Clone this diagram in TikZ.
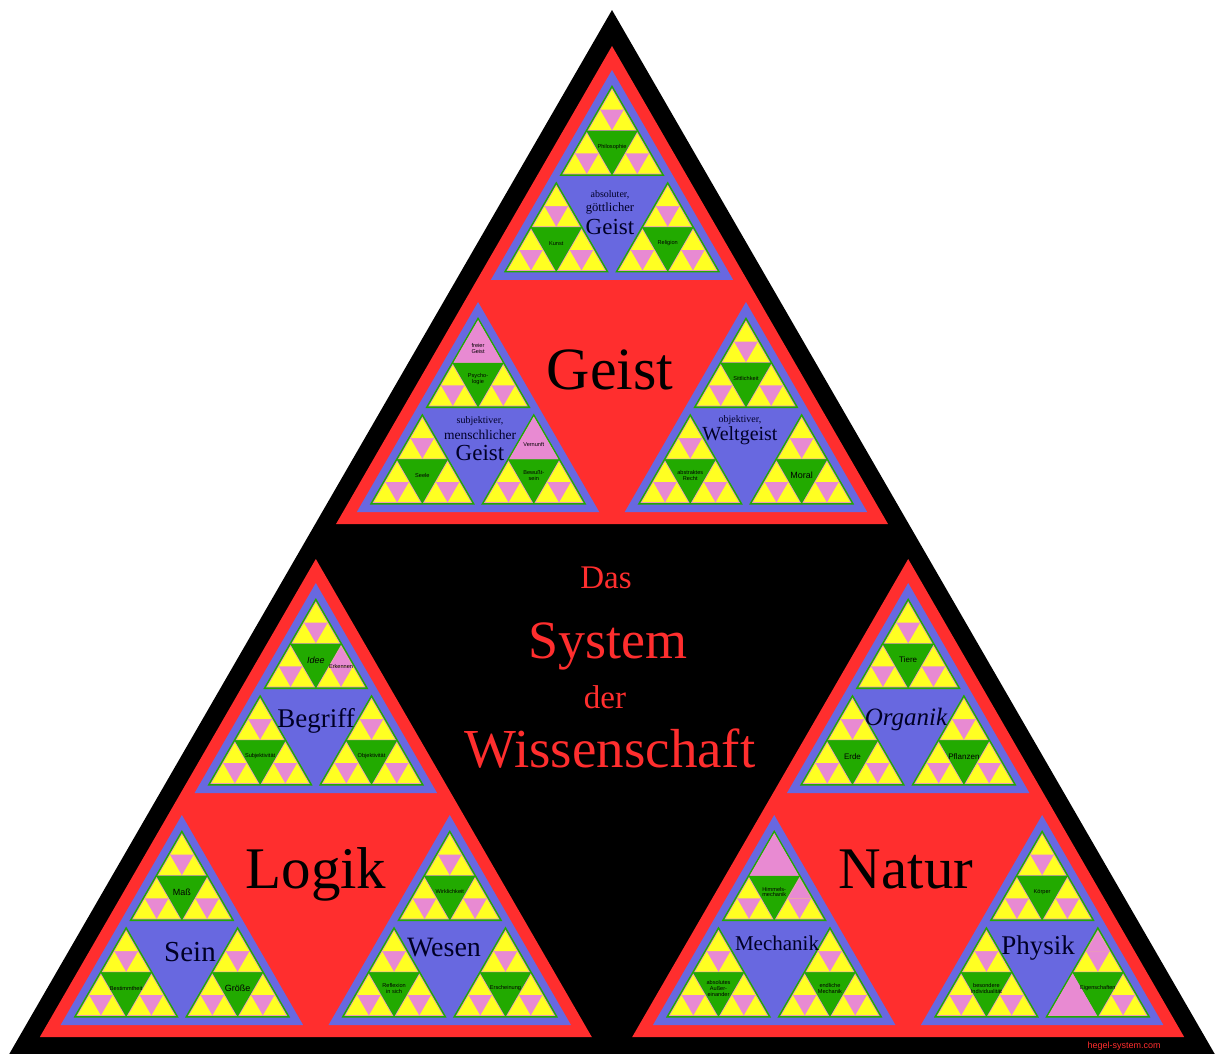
\documentclass[tikz,border=0pt]{standalone}
\usepackage{fontspec}
\setmainfont{Liberation Serif}
\setsansfont{Liberation Sans}
\definecolor{cred}{HTML}{FF2E2E}
\definecolor{cblue}{HTML}{6868E0}
\definecolor{cgreen}{HTML}{22AA00}
\definecolor{cyellow}{HTML}{FFFF22}
\definecolor{cpink}{HTML}{E88AD2}
\newcommand\tri[5]{%
  \pgfmathsetmacro\hw{#4/sqrt(3)}%
  \coordinate (#5-a) at (#2,#3);
  \coordinate (#5-bl) at ({#2-\hw},{#3+#4});
  \coordinate (#5-br) at ({#2+\hw},{#3+#4});
  \coordinate (#5-c) at (#2,{#3+0.68*#4});
  \fill[#1] (#5-a) -- (#5-bl) -- (#5-br) -- cycle;
}
\newcommand\kids[5]{%
  \pgfmathsetmacro\kTy{#2+2*#4}%
  \pgfmathsetmacro\kBy{#2+#3-#4-#5}%
  \pgfmathsetmacro\kLx{#1-#3/sqrt(3)+sqrt(3)*#4+#5/sqrt(3)}%
  \pgfmathsetmacro\kRx{#1+#3/sqrt(3)-sqrt(3)*#4-#5/sqrt(3)}%
}
\newcommand\lvfive[4]{\tri{cyellow}{#1}{#2}{#3}{#4}}
\newcommand\lvfour[4]{\begingroup
  \pgfmathsetmacro\Px{#1}\pgfmathsetmacro\Py{#2}\pgfmathsetmacro\Ph{#3}%
  \tri{cpink}{\Px}{\Py}{\Ph}{#4}%
  \pgfmathsetmacro\Pc{\Ph*0.47}%
  \kids{\Px}{\Py}{\Ph}{0.7}{\Pc}%
  \edef\next{\noexpand\lvfive{\Px}{\kTy}{\Pc}{#4-t}\noexpand\lvfive{\kLx}{\kBy}{\Pc}{#4-l}\noexpand\lvfive{\kRx}{\kBy}{\Pc}{#4-r}}\next
  \endgroup}
\newcommand\lvthree[4]{\begingroup
  \pgfmathsetmacro\Px{#1}\pgfmathsetmacro\Py{#2}\pgfmathsetmacro\Ph{#3}%
  \tri{cgreen}{\Px}{\Py}{\Ph}{#4}%
  \pgfmathsetmacro\Pc{\Ph*0.467}%
  \kids{\Px}{\Py}{\Ph}{1.6}{\Pc}%
  \edef\next{\noexpand\lvfour{\Px}{\kTy}{\Pc}{#4-t}\noexpand\lvfour{\kLx}{\kBy}{\Pc}{#4-l}\noexpand\lvfour{\kRx}{\kBy}{\Pc}{#4-r}}\next
  \endgroup}
\newcommand\lvtwo[4]{\begingroup
  \pgfmathsetmacro\Px{#1}\pgfmathsetmacro\Py{#2}\pgfmathsetmacro\Ph{#3}%
  \tri{cblue}{\Px}{\Py}{\Ph}{#4}%
  \pgfmathsetmacro\Pc{\Ph*0.4333}%
  \kids{\Px}{\Py}{\Ph}{7.5}{\Pc}%
  \edef\next{\noexpand\lvthree{\Px}{\kTy}{\Pc}{#4-t}\noexpand\lvthree{\kLx}{\kBy}{\Pc}{#4-l}\noexpand\lvthree{\kRx}{\kBy}{\Pc}{#4-r}}\next
  \endgroup}
\newcommand\lvone[4]{\begingroup
  \pgfmathsetmacro\Px{#1}\pgfmathsetmacro\Py{#2}\pgfmathsetmacro\Ph{#3}%
  \tri{cred}{\Px}{\Py}{\Ph}{#4}%
  \pgfmathsetmacro\Pc{\Ph*0.4393}%
  \kids{\Px}{\Py}{\Ph}{12}{\Pc}%
  \edef\next{\noexpand\lvtwo{\Px}{\kTy}{\Pc}{#4-t}\noexpand\lvtwo{\kLx}{\kBy}{\Pc}{#4-l}\noexpand\lvtwo{\kRx}{\kBy}{\Pc}{#4-r}}\next
  \endgroup}
\newcommand\fsz[1]{\fontsize{#1}{#1}\selectfont}
\begin{document}
\begin{tikzpicture}[x=1pt,y=-1pt,
  ctext/.style={text=cred,inner sep=0pt},
  bigl/.style={text=black,inner sep=0pt},
  midl/.style={text=black!85!blue,inner sep=0pt,align=center},
  tinyl/.style={text=black,inner sep=0pt,align=center,font=\sffamily\fsz{5.6}},
  pinkfull/.style={fill=cpink}]
\useasboundingbox (0,0) rectangle (1217,1053);
\fill[white] (0,0) rectangle (1217,1053);
\tri{black}{612}{10}{1045}{W}
\kids{612}{10}{1045}{18}{478}
\edef\next{\noexpand\lvone{612}{\kTy}{478}{G}\noexpand\lvone{\kLx}{\kBy}{478}{L}\noexpand\lvone{\kRx}{\kBy}{478}{N}}\next
% irregular pink parts
\fill[pinkfull] (G-l-t-t-a) -- (G-l-t-t-bl) -- (G-l-t-t-br) -- cycle;
\fill[pinkfull] (G-l-r-t-a) -- (G-l-r-t-bl) -- (G-l-r-t-br) -- cycle;
\fill[pinkfull] (L-t-t-r-t-a) -- (L-t-t-r-t-bl) -- (L-t-t-r-t-br) -- cycle;
\fill[pinkfull] (N-l-t-t-a) -- (N-l-t-t-bl) -- (N-l-t-t-br) -- cycle;
\fill[pinkfull] (N-l-t-r-t-a) -- (N-l-t-r-t-bl) -- (N-l-t-r-t-br) -- cycle;
\fill[pinkfull] (N-r-r-t-t-a) -- (N-r-r-t-t-bl) -- (N-r-r-t-t-br) -- cycle;
\fill[pinkfull] (N-r-r-l-a) -- (N-r-r-l-bl) -- (N-r-r-l-br) -- cycle;
\node[tinyl] (fg) at ([yshift=-28]G-l-t-t-a) {freier\\Geist};
\node[tinyl] (vn) at ([yshift=-28]G-l-r-t-a) {Vernunft};
\node[tinyl] (ek) at ([yshift=-22]L-t-t-r-a) {Erkennen};
% centre title
\node[ctext,anchor=base,font=\fsz{33}] (das) at (606,588) {Das};
\node[ctext,anchor=base,font=\fsz{54}] (sys) at (608,658) {System};
\node[ctext,anchor=base,font=\fsz{33}] (der) at (605,708) {der};
\node[ctext,anchor=base,font=\fsz{55}] (wis) at (610,767) {Wissenschaft};
% level 1 labels
\node[bigl,anchor=base,font=\fsz{60}] (geist) at (610,389) {Geist};
\node[bigl,anchor=base,font=\fsz{59}] (logik) at (316,888) {Logik};
\node[bigl,anchor=base,font=\fsz{59}] (natur) at (906,888) {Natur};
% level 2 labels
\node[midl,anchor=base,font=\fsz{10}] (abs1) at (610,197) {absoluter,};
\node[midl,anchor=base,font=\fsz{12.6}] (abs2) at (610,211) {göttlicher};
\node[midl,anchor=base,font=\fsz{23}] (abs3) at (610,234) {Geist};
\node[midl,anchor=base,font=\fsz{10}] (sub1) at (480,423) {subjektiver,};
\node[midl,anchor=base,font=\fsz{13.5}] (sub2) at (480,439) {menschlicher};
\node[midl,anchor=base,font=\fsz{23}] (sub3) at (480,460) {Geist};
\node[midl,anchor=base,font=\fsz{10}] (obj1) at (740,422) {objektiver,};
\node[midl,anchor=base,font=\fsz{20}] (obj2) at (740,440) {Weltgeist};
\node[midl,anchor=base,font=\fsz{27}] (begr) at (316,727) {Begriff};
\node[midl,anchor=base,font=\fsz{29}] (sein) at (190,961) {Sein};
\node[midl,anchor=base,font=\fsz{28}] (wesen) at (444,956) {Wesen};
\node[midl,anchor=base,font=\itshape\fsz{25}] (organ) at (906,725) {Organik};
\node[midl,anchor=base,font=\fsz{21}] (mech) at (777,950) {Mechanik};
\node[midl,anchor=base,font=\fsz{27}] (phys) at (1038,954) {Physik};
% level 3 labels
\node[tinyl] (l1) at (G-t-t-c) {Philosophie};
\node[tinyl] (l2) at (G-t-l-c) {Kunst};
\node[tinyl] (l3) at (G-t-r-c) {Religion};
\node[tinyl] (l4) at (G-l-t-c) {Psycho-\\logie};
\node[tinyl] (l5) at (G-l-l-c) {Seele};
\node[tinyl] (l6) at (G-l-r-c) {Bewußt-\\sein};
\node[tinyl] (l7) at (G-r-t-c) {Sittlichkeit};
\node[tinyl] (l8) at (G-r-l-c) {abstraktes\\Recht};
\node[tinyl,font=\sffamily\fsz{9}] (l9) at (G-r-r-c) {Moral};
\node[tinyl,font=\sffamily\itshape\fsz{9}] (l10) at (L-t-t-c) {Idee};
\node[tinyl] (l11) at (L-t-l-c) {Subjektivität};
\node[tinyl] (l12) at (L-t-r-c) {Objektivität};
\node[tinyl,font=\sffamily\fsz{9}] (l13) at (L-l-t-c) {Maß};
\node[tinyl] (l14) at (L-l-l-c) {Bestimmtheit};
\node[tinyl,font=\sffamily\fsz{9}] (l15) at (L-l-r-c) {Größe};
\node[tinyl] (l16) at (L-r-t-c) {Wirklichkeit};
\node[tinyl] (l17) at (L-r-l-c) {Reflexion\\in sich};
\node[tinyl] (l18) at (L-r-r-c) {Erscheinung};
\node[tinyl,font=\sffamily\fsz{8}] (l19) at (N-t-t-c) {Tiere};
\node[tinyl,font=\sffamily\fsz{8}] (l20) at (N-t-l-c) {Erde};
\node[tinyl,font=\sffamily\fsz{8}] (l21) at (N-t-r-c) {Pflanzen};
\node[tinyl] (l22) at (N-l-t-c) {Himmels-\\mechanik};
\node[tinyl] (l23) at (N-l-l-c) {absolutes\\Außer-\\einander};
\node[tinyl] (l24) at (N-l-r-c) {endliche\\Mechanik};
\node[tinyl] (l25) at (N-r-t-c) {Körper};
\node[tinyl] (l26) at (N-r-l-c) {besondere\\Individualität};
\node[tinyl] (l27) at (N-r-r-c) {Eigenschaften};
% footer
\node[ctext,font=\sffamily\fsz{9}] (url) at (1124,1046) {hegel-system.com};
\end{tikzpicture}
\end{document}
